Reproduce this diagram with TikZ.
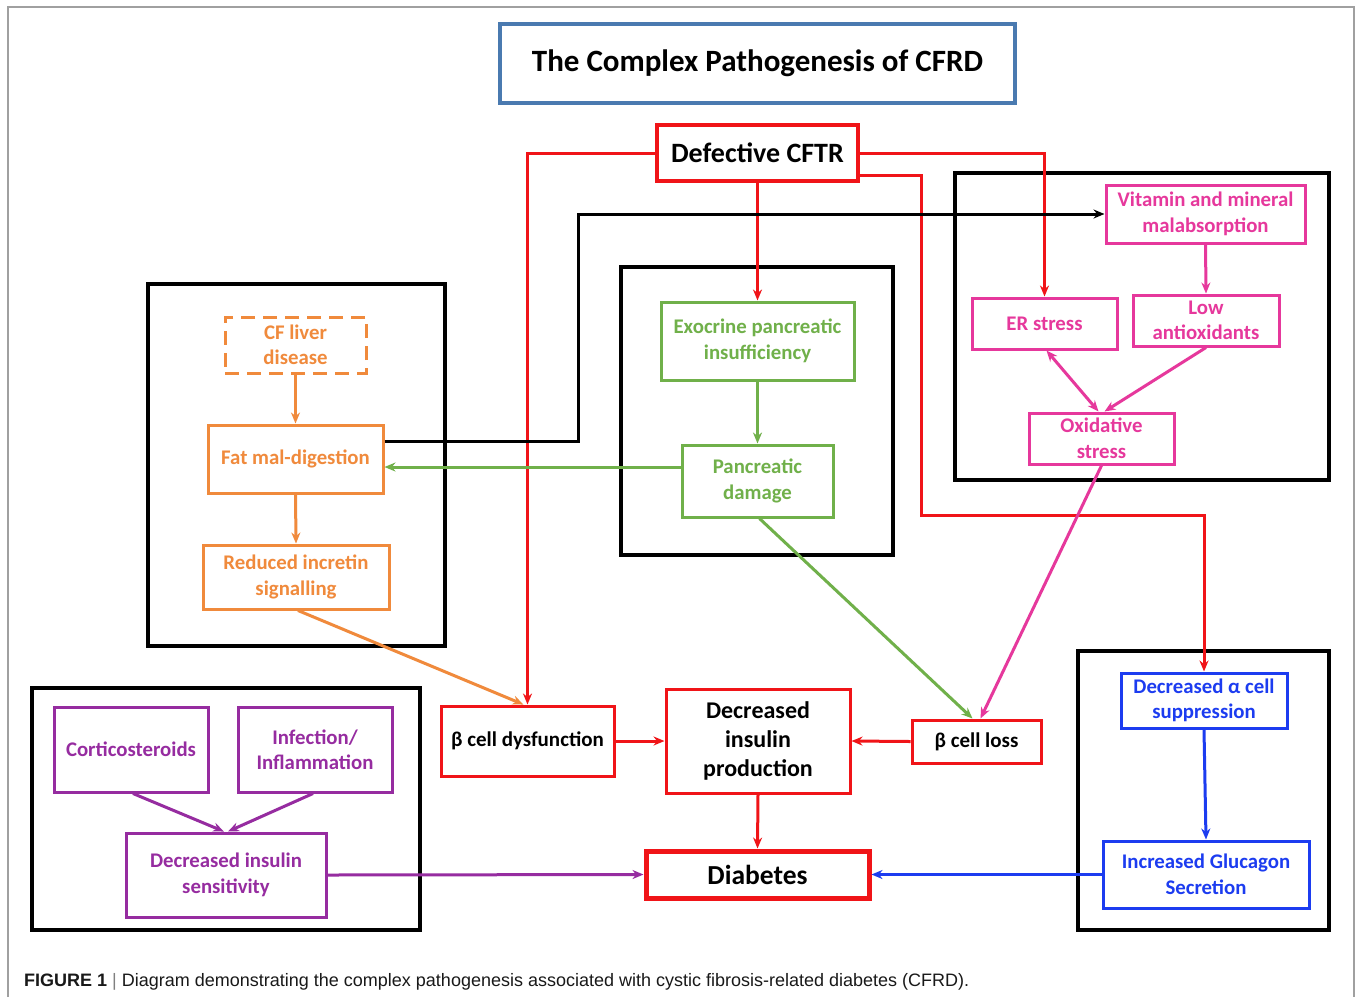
\documentclass[tikz,border=0pt]{standalone}
\usepackage{fontspec}
\setmainfont{Carlito}
\newfontfamily\capfont{Liberation Sans}
\usetikzlibrary{arrows.meta}
\definecolor{cred}{RGB}{240,20,24}
\definecolor{corange}{RGB}{240,138,60}
\definecolor{cgreen}{RGB}{112,176,74}
\definecolor{cpink}{RGB}{230,56,156}
\definecolor{cpurple}{RGB}{150,44,160}
\definecolor{cblue}{RGB}{28,60,240}
\definecolor{ctitle}{RGB}{74,122,176}
\definecolor{cframe}{RGB}{160,160,160}
\begin{document}
\begin{tikzpicture}[x=1pt,y=-1pt,
  every node/.style={inner sep=0pt, align=center},
  sm/.style={font=\bfseries\fontsize{20.8}{25.5}\selectfont},
  cbox/.style={draw, line width=3pt},
  group/.style={draw=black, line width=3.5pt},
  tip/.style={-{Stealth[length=11pt,width=9pt]}},
  conn/.style={line width=3pt, tip},
  redbox/.style={cbox, draw=cred, text=black},
  orbox/.style={cbox, sm, draw=corange, text=corange},
  grbox/.style={cbox, sm, draw=cgreen, text=cgreen},
  pkbox/.style={cbox, sm, draw=cpink, text=cpink},
  pubox/.style={cbox, sm, draw=cpurple, text=cpurple},
  blbox/.style={cbox, sm, draw=cblue, text=cblue}
]
\useasboundingbox (0,0) rectangle (1359,997);
\fill[white] (0,0) rectangle (1359,997);
\draw[cframe, line width=2pt] (8,997) -- (8,7) -- (1354,7) -- (1354,997);

% group boxes
\draw[group] (148,284) rectangle (445,646);
\draw[group] (621,267) rectangle (893,555);
\draw[group] (955,173) rectangle (1329,480);
\draw[group] (1078,651) rectangle (1329,930);
\draw[group] (32,688) rectangle (420,930);

% title
\node[draw=ctitle, line width=4.5pt, minimum width=515pt, minimum height=79pt,
      font=\bfseries\fontsize{31}{36}\selectfont] (title) at (757.5,63.5) {The Complex Pathogenesis of CFRD};

% central red
\node[redbox, line width=4pt, minimum width=201pt, minimum height=56pt,
      font=\bfseries\fontsize{28}{32}\selectfont] (cftr) at (757.5,153) {Defective CFTR};
\node[redbox, minimum width=173pt, minimum height=70pt,
      font=\bfseries\fontsize{21}{25}\selectfont] (bdys) at (527.5,741) {β cell dysfunction};
\node[redbox, minimum width=184pt, minimum height=104pt,
      font=\bfseries\fontsize{24}{29}\selectfont] (dip) at (758,741) {Decreased\\insulin\\production};
\node[redbox, minimum width=129pt, minimum height=43pt,
      font=\bfseries\fontsize{21}{25}\selectfont] (bloss) at (976.5,741.5) {β cell loss};
\node[redbox, line width=5pt, minimum width=223pt, minimum height=47pt,
      font=\bfseries\fontsize{27.5}{32}\selectfont] (diab) at (757.5,874.5) {Diabetes};

% orange
\node[orbox, dashed, dash pattern=on 14pt off 8pt, minimum width=141pt, minimum height=56pt] (liver) at (295.5,345) {CF liver\\disease};
\node[orbox, minimum width=175pt, minimum height=68pt] (fat) at (295.5,459) {Fat mal-digestion};
\node[orbox, minimum width=186pt, minimum height=64pt] (incr) at (296,577) {Reduced incretin\\signalling};

% green
\node[grbox, minimum width=193pt, minimum height=78pt] (exo) at (757.5,341) {Exocrine pancreatic\\insufficiency};
\node[grbox, minimum width=151pt, minimum height=72pt] (pdam) at (757.5,481) {Pancreatic\\damage};

% pink
\node[pkbox, minimum width=199pt, minimum height=58pt] (vit) at (1205.5,214) {Vitamin and mineral\\malabsorption};
\node[pkbox, minimum width=145pt, minimum height=51pt] (er) at (1044.5,323.5) {ER stress};
\node[pkbox, minimum width=146pt, minimum height=51pt] (low) at (1206,320.5) {Low\\antioxidants};
\node[pkbox, minimum width=145pt, minimum height=51pt] (ox) at (1101.5,438.5) {Oxidative\\stress};

% blue
\node[blbox, minimum width=166pt, minimum height=55pt] (alpha) at (1204,700.5) {Decreased α cell\\suppression};
\node[blbox, minimum width=206pt, minimum height=67pt] (gluc) at (1206,874.5) {Increased Glucagon\\Secretion};

% purple
\node[pubox, minimum width=154pt, minimum height=85pt] (cort) at (131,749.5) {Corticosteroids};
\node[pubox, minimum width=154pt, minimum height=85pt] (inf) at (315,749.5) {Infection/\\Inflammation};
\node[pubox, minimum width=200pt, minimum height=84pt] (dis) at (226,875) {Decreased insulin\\sensitivity};

% coordinates
\coordinate (k1) at (578,214);
\coordinate (r1) at (921,515);
\coordinate (bl) at ([yshift=18pt]fat.east);
\coordinate (g1) at ([yshift=14pt]pdam.west);
\coordinate (cr2) at ([yshift=-22pt]cftr.east);

% red connectors
\draw[conn, cred] (cftr.west) -| (bdys.north);
\draw[conn, cred] (cftr.east) -| (er.north);
\draw[conn, cred] (cftr.south) -- (exo.north);
\draw[conn, cred] (cr2) -| (r1) -| (alpha.north);
\draw[conn, cred] (bdys.east) -- (dip.west);
\draw[conn, cred] (bloss.west) -- (dip.east);
\draw[conn, cred] (dip.south) -- (diab.north);

% black connector
\draw[conn, black] (bl) -| (k1) -- (vit.west);

% orange
\draw[conn, corange] (liver.south) -- (fat.north);
\draw[conn, corange] (fat.south) -- (incr.north);
\draw[conn, corange] ([xshift=2pt]incr.south) -- ([xshift=-4pt]bdys.north);

% green
\draw[conn, cgreen] (exo.south) -- (pdam.north);
\draw[conn, cgreen] (g1) -- (g1 -| fat.east);
\draw[conn, cgreen] ([xshift=2pt]pdam.south) -- ([xshift=-4pt]bloss.north);

% pink
\draw[conn, cpink] (vit.south) -- (low.north);
\draw[line width=3pt, cpink, {Stealth[length=11pt,width=9pt]}-{Stealth[length=11pt,width=9pt]}] ([xshift=2pt]er.south) -- ([xshift=-3pt]ox.north);
\draw[conn, cpink] (low.south) -- ([xshift=3pt]ox.north);
\draw[conn, cpink] (ox.south) -- ([xshift=4pt]bloss.north);

% blue
\draw[conn, cblue] (alpha.south) -- (gluc.north);
\draw[conn, cblue] (gluc.west) -- (diab.east);

% purple
\draw[conn, cpurple] ([xshift=2pt]cort.south) -- ([xshift=-2pt]dis.north);
\draw[conn, cpurple] ([xshift=-2pt]inf.south) -- ([xshift=2pt]dis.north);
\draw[conn, cpurple] (dis.east) -- (diab.west);

% caption
\node[anchor=base west, font=\capfont\fontsize{18}{21}\selectfont, text=black!90] (cap) at (24,986)
  {\textbf{FIGURE 1} \textcolor{black!50}{|} Diagram demonstrating the complex pathogenesis associated with cystic fibrosis-related diabetes (CFRD).};
\end{tikzpicture}
\end{document}
